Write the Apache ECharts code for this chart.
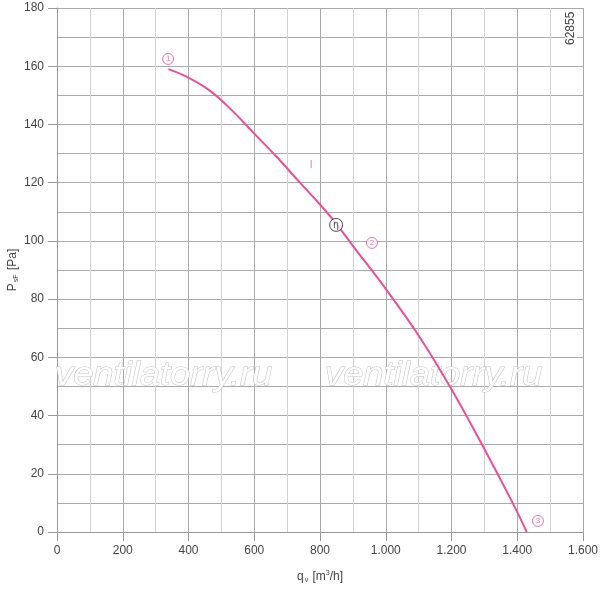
<!DOCTYPE html>
<html><head><meta charset="utf-8">
<script src="https://cdn.jsdelivr.net/npm/echarts@6/dist/echarts.min.js"></script>
<style>html,body{margin:0;padding:0;background:#fff}#c{width:600px;height:589px}</style>
</head><body><div id="c"></div>
<script>
var xTicks = [0, 200, 400, 600, 800, 1000, 1200, 1400, 1600];
var yTicks = [0, 20, 40, 60, 80, 100, 120, 140, 160, 180];
var curveQ = [339, 394, 465, 536, 597, 668, 739, 800, 851, 900, 1000, 1100, 1200, 1300, 1386, 1429];
var curveP = [159, 156.4, 151.6, 144.4, 137.2, 128.9, 120, 112.5, 105.7, 98.3, 83.5, 67.5, 49, 28.5, 10, 0];
var markNames = ['1', '2', '3'];
var markQ = [338, 958, 1463];
var markP = [162.5, 99.3, 3.8];
var etaPoint = [849, 105.5];
var curveLabelPoint = [773, 126];

var chart = echarts.init(document.getElementById('c'));
var font = 'Liberation Sans, Arial, sans-serif';
function fmt(v){ return v >= 1000 ? String(v).replace(/(\d)(\d{3})$/, '$1.$2') : String(v); }
var pink = '#ee4d9b';
chart.setOption({
  animation: false,
  grid: {left: 57, right: 17, top: 8, bottom: 57, containLabel: false, outerBoundsMode: 'none'},
  xAxis: {
    type: 'value', min: xTicks[0], max: xTicks[xTicks.length-1], interval: 200,
    name: '{a|q}{s|v}{a| [m}{p|3}{a|/h]}', nameLocation: 'middle', nameGap: 38, nameMoveOverlap: false,
    nameTextStyle: {rich: {
      a: {fontFamily: font, fontSize: 12, color: '#444'},
      s: {fontFamily: font, fontSize: 7, color: '#444', padding: [7,1,0,1]},
      p: {fontFamily: font, fontSize: 7, color: '#444', padding: [0,0,7,0]}
    }},
    axisLine: {show: true, lineStyle: {color: '#999', width: 1}},
    axisTick: {show: true, length: 9, lineStyle: {color: '#999'}},
    axisLabel: {margin: 13, color: '#444', fontFamily: font, fontSize: 12, formatter: fmt},
    splitLine: {show: true, lineStyle: {color: '#aaa', width: 1}},
    minorTick: {show: false, splitNumber: 2},
    minorSplitLine: {show: true, lineStyle: {color: '#d2d2d2', width: 1}}
  },
  yAxis: {
    type: 'value', min: yTicks[0], max: yTicks[yTicks.length-1], interval: 20,
    name: '{a|P}{s|sF}{a| [Pa]}', nameLocation: 'middle', nameGap: 37, nameRotate: 90, nameMoveOverlap: false,
    nameTextStyle: {rich: {
      a: {fontFamily: font, fontSize: 12, color: '#444'},
      s: {fontFamily: font, fontSize: 7, color: '#444', padding: [7,1,0,1]}
    }},
    axisLine: {show: true, lineStyle: {color: '#999', width: 1}},
    axisTick: {show: true, length: 9, lineStyle: {color: '#999'}},
    axisLabel: {margin: 13, color: '#444', fontFamily: font, fontSize: 12},
    splitLine: {show: true, lineStyle: {color: '#aaa', width: 1}},
    minorTick: {show: false, splitNumber: 2},
    minorSplitLine: {show: true, lineStyle: {color: '#aaa', width: 1}}
  },
  graphic: [
    {type: 'text', x: 55, y: 392, scaleX: 1.1, z: 1, silent: true, style: {text: 'ventilatorry.ru', font: 'italic 33px ' + font, fill: '#fff', stroke: '#c2c2c2', lineWidth: 1, verticalAlign: 'bottom'}},
    {type: 'text', x: 325, y: 392, scaleX: 1.1, z: 1, silent: true, style: {text: 'ventilatorry.ru', font: 'italic 33px ' + font, fill: '#fff', stroke: '#c2c2c2', lineWidth: 1, verticalAlign: 'bottom'}},
    {type: 'text', x: 565, y: 46, rotation: Math.PI/2, z: 10, style: {text: '62855', font: '12px ' + font, fill: '#444', backgroundColor: '#fff', padding: [0,1,0,1]}}
  ],
  series: [
    {type: 'line', smooth: 0.4, showSymbol: false, z: 3,
     lineStyle: {color: pink, width: 2},
     data: curveQ.map(function(q,i){ return [q, curveP[i]]; })},
    {type: 'scatter', z: 5, symbol: 'circle', symbolSize: 11,
     itemStyle: {color: '#fff', borderColor: pink, borderWidth: 1},
     label: {show: true, position: 'inside', color: pink, fontSize: 8, fontFamily: font, formatter: function(p){ return markNames[p.dataIndex]; }},
     data: markQ.map(function(q,i){ return [q, markP[i]]; })},
    {type: 'scatter', z: 6, symbol: 'circle', symbolSize: 13,
     itemStyle: {color: '#fff', borderColor: '#222', borderWidth: 1},
     label: {show: true, position: 'inside', color: '#222', fontSize: 10, fontFamily: font, formatter: 'η'},
     data: [etaPoint]},
    {type: 'scatter', z: 5, symbolSize: 0,
     label: {show: true, position: 'inside', color: pink, fontSize: 10, fontFamily: font, formatter: 'I'},
     data: [curveLabelPoint]}
  ]
});
</script></body></html>
